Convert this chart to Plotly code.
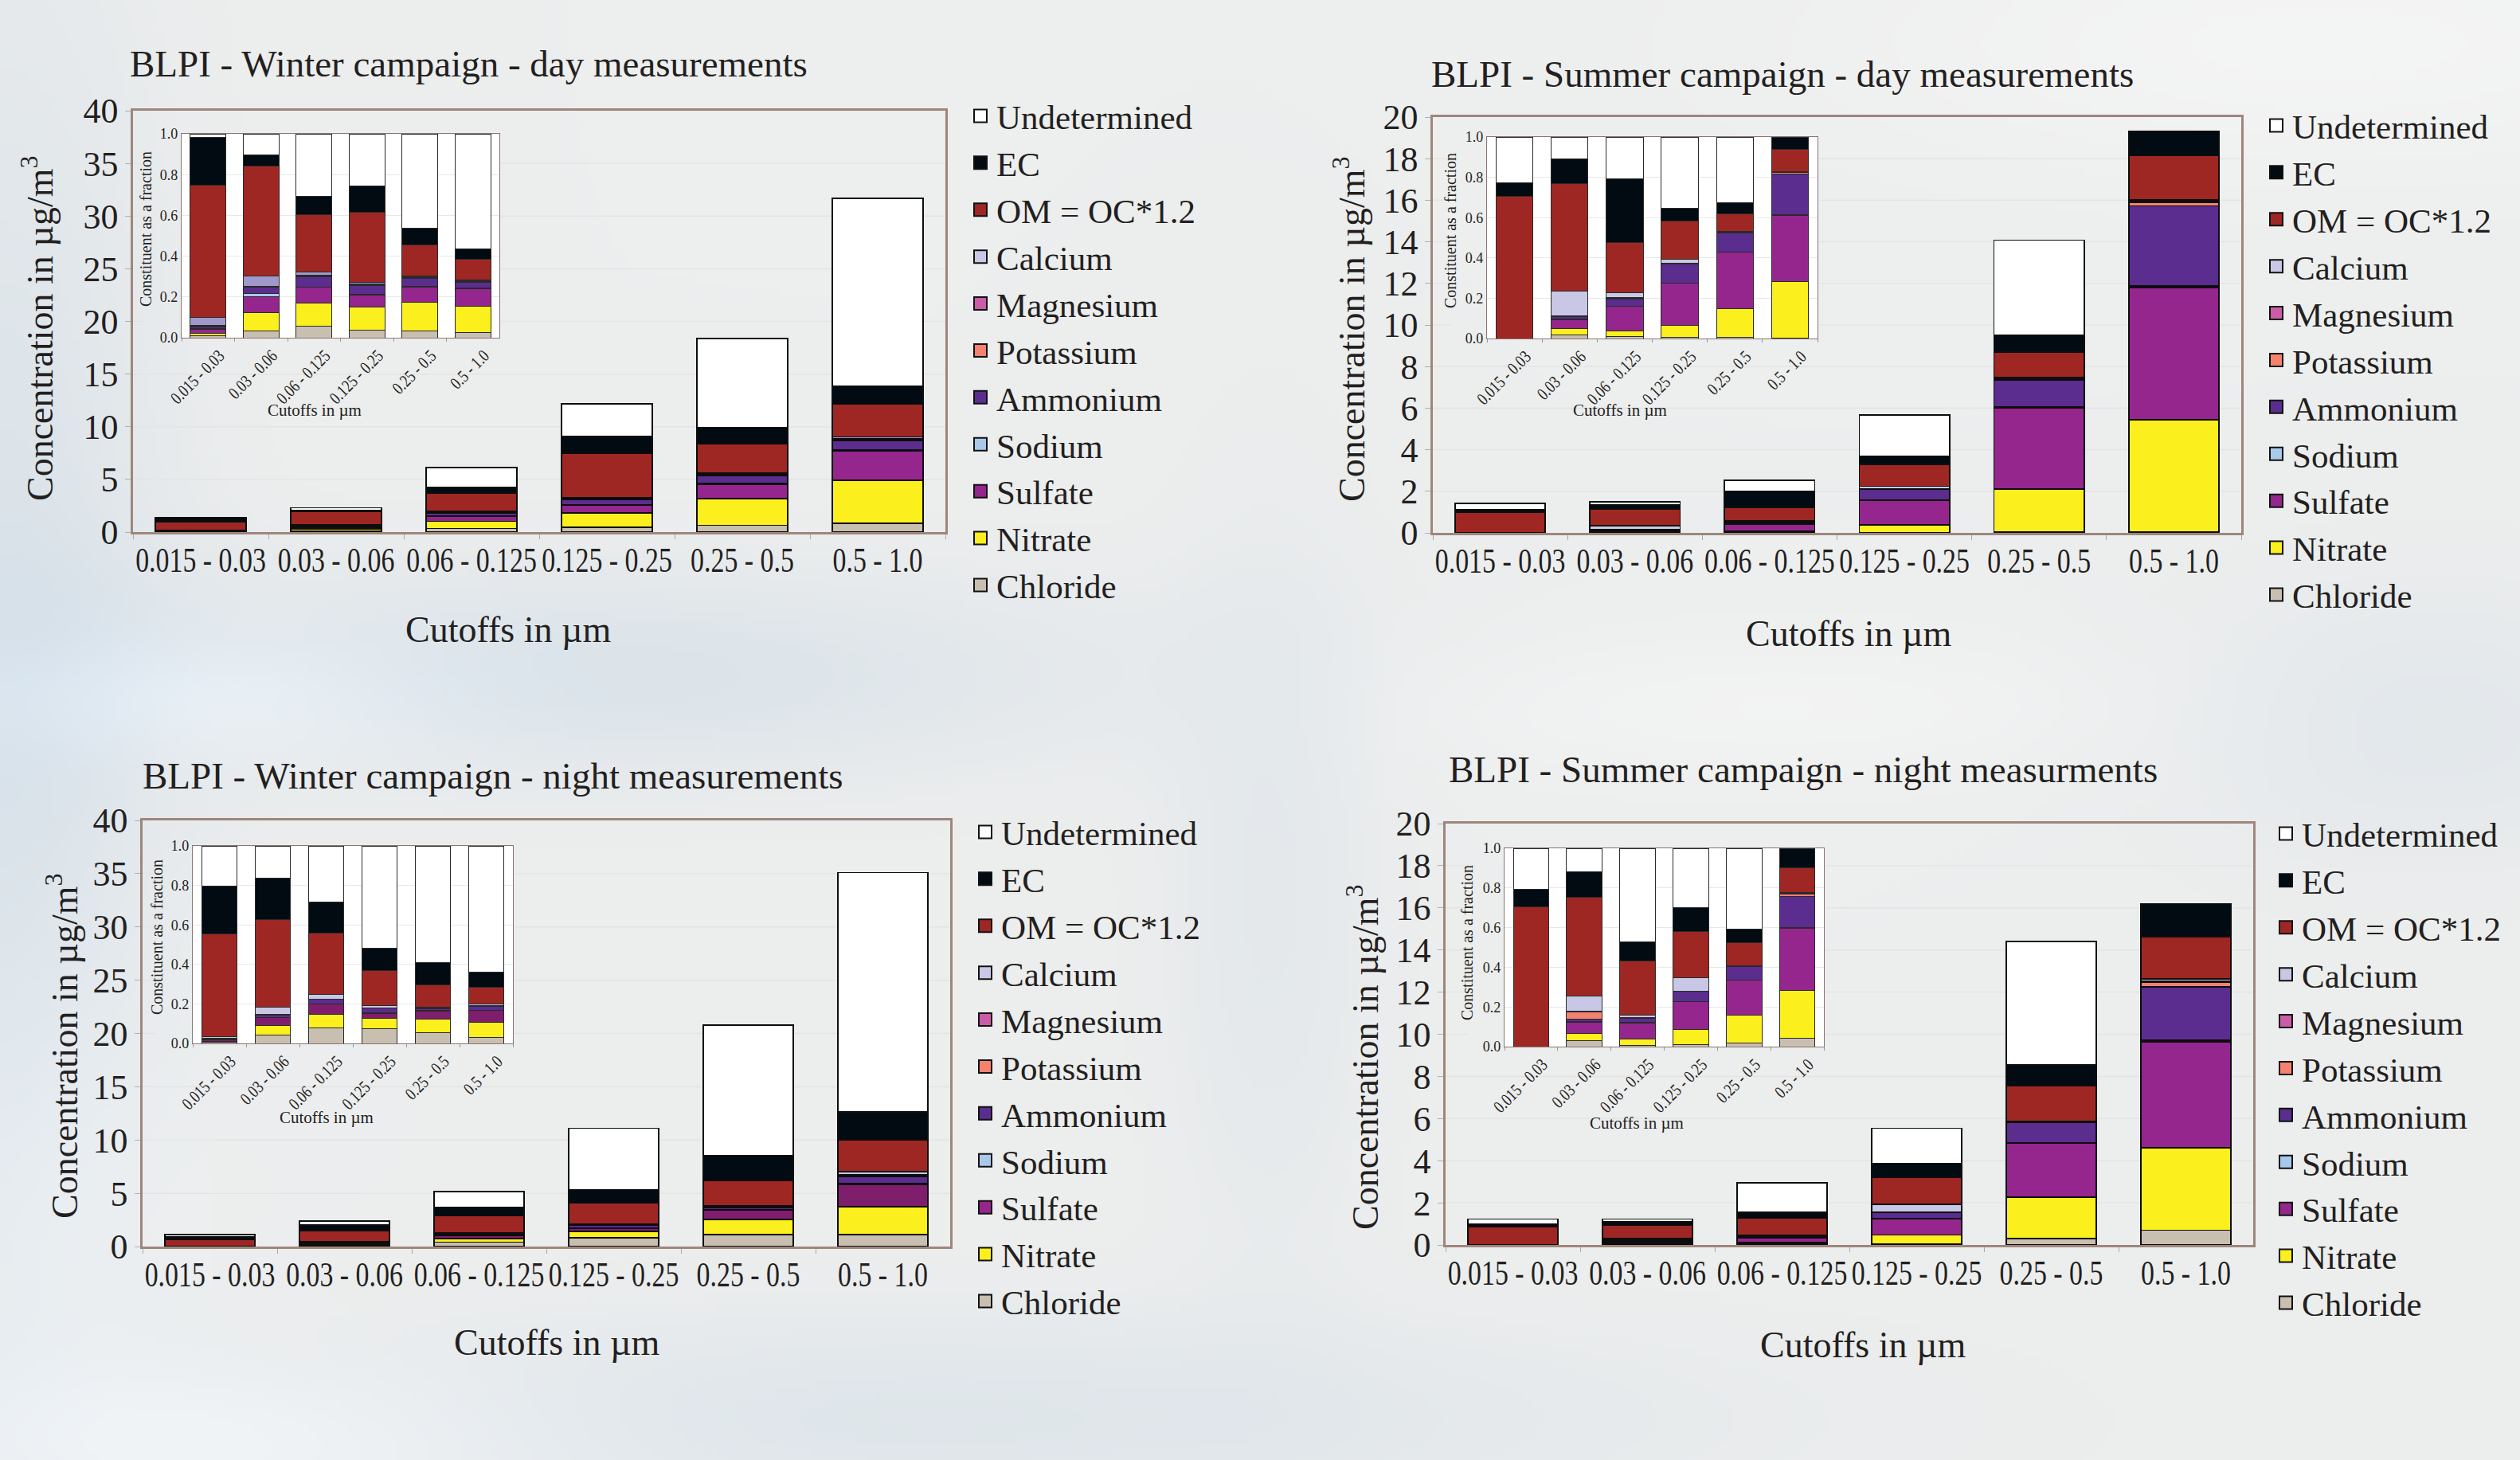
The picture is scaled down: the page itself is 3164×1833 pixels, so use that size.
import base64, struct, zlib
import numpy as np
import plotly.graph_objects as go

W, H = 3164, 1833
FONT = "Liberation Serif, Times New Roman, serif"
TXT = "#231f20"
FRAME = "#9f867b"
GRID = "#e4e4e4"

CUTOFFS = ["0.015 - 0.03", "0.03 - 0.06", "0.06 - 0.125", "0.125 - 0.25", "0.25 - 0.5", "0.5 - 1.0"]
STACK = ["Chloride", "Nitrate", "Sulfate", "Sodium", "Ammonium", "Potassium",
         "Magnesium", "Calcium", "OM = OC*1.2", "EC", "Undetermined"]   # bottom -> top
LEGEND_ORDER = STACK[::-1]

COLORS = {
    "Undetermined": "#ffffff", "EC": "#020b12", "OM = OC*1.2": "#9e2724",
    "Calcium": "#c8c8e6", "Magnesium": "#cc5ca8", "Potassium": "#f5826e",
    "Ammonium": "#5b2d8f", "Sodium": "#a9c9ea", "Sulfate": "#95268e",
    "Nitrate": "#fbef1d", "Chloride": "#c9bfb1",
}

# ---- total concentrations (µg/m3) per cutoff ----
WINTER_DAY_TOTAL = [1.35, 2.3, 6.1, 12.2, 18.4, 31.7]
WINTER_NIGHT_TOTAL = [1.15, 2.4, 5.15, 11.1, 20.8, 35.1]
SUMMER_DAY_TOTAL = [1.43, 1.49, 2.54, 5.67, 14.08, 19.3]
SUMMER_NIGHT_TOTAL = [1.23, 1.23, 2.95, 5.54, 14.4, 16.2]

# ---- constituent fractions per cutoff ----
WINTER_DAY_FRAC = {
    "Chloride":     [0.008, 0.035, 0.055, 0.039, 0.035, 0.027],
    "Nitrate":      [0.015, 0.089, 0.113, 0.112, 0.137, 0.129],
    "Sulfate":      [0.017, 0.077, 0.079, 0.058, 0.075, 0.086],
    "Sodium":       [0.003, 0.017, 0.003, 0.003, 0.004, 0.003],
    "Ammonium":     [0.010, 0.030, 0.050, 0.044, 0.040, 0.028],
    "Potassium":    [0.004, 0.002, 0.003, 0.003, 0.003, 0.003],
    "Magnesium":    [0.004, 0.002, 0.003, 0.003, 0.003, 0.003],
    "Calcium":      [0.037, 0.051, 0.015, 0.008, 0.006, 0.006],
    "OM = OC*1.2":  [0.652, 0.537, 0.283, 0.344, 0.151, 0.098],
    "EC":           [0.234, 0.058, 0.091, 0.129, 0.084, 0.053],
    "Undetermined": [0.016, 0.102, 0.305, 0.257, 0.462, 0.564],
}
WINTER_NIGHT_FRAC = {
    "Chloride":     [0.005, 0.042, 0.079, 0.073, 0.054, 0.032],
    "Nitrate":      [0.006, 0.047, 0.070, 0.053, 0.068, 0.074],
    "Sulfate":      [0.008, 0.041, 0.049, 0.025, 0.042, 0.060],
    "Sodium":       [0.002, 0.003, 0.002, 0.003, 0.003, 0.003],
    "Ammonium":     [0.005, 0.012, 0.022, 0.024, 0.010, 0.019],
    "Potassium":    [0.001, 0.001, 0.001, 0.001, 0.001, 0.002],
    "Magnesium":    [0.001, 0.001, 0.001, 0.001, 0.001, 0.002],
    "Calcium":      [0.005, 0.036, 0.025, 0.010, 0.006, 0.008],
    "OM = OC*1.2":  [0.522, 0.443, 0.310, 0.177, 0.113, 0.085],
    "EC":           [0.243, 0.209, 0.155, 0.114, 0.112, 0.075],
    "Undetermined": [0.202, 0.165, 0.286, 0.519, 0.590, 0.640],
}
SUMMER_DAY_FRAC = {
    "Chloride":     [0.000, 0.016, 0.008, 0.004, 0.004, 0.002],
    "Nitrate":      [0.000, 0.033, 0.028, 0.062, 0.145, 0.280],
    "Sulfate":      [0.000, 0.045, 0.123, 0.208, 0.279, 0.330],
    "Sodium":       [0.000, 0.002, 0.002, 0.002, 0.002, 0.003],
    "Ammonium":     [0.000, 0.012, 0.036, 0.094, 0.092, 0.200],
    "Potassium":    [0.000, 0.001, 0.002, 0.002, 0.003, 0.008],
    "Magnesium":    [0.000, 0.002, 0.003, 0.003, 0.002, 0.003],
    "Calcium":      [0.000, 0.126, 0.026, 0.020, 0.003, 0.004],
    "OM = OC*1.2":  [0.705, 0.531, 0.250, 0.187, 0.088, 0.110],
    "EC":           [0.068, 0.125, 0.315, 0.066, 0.057, 0.060],
    "Undetermined": [0.227, 0.107, 0.207, 0.352, 0.325, 0.000],
}
SUMMER_NIGHT_FRAC = {
    "Chloride":     [0.000, 0.029, 0.008, 0.009, 0.020, 0.043],
    "Nitrate":      [0.000, 0.038, 0.032, 0.077, 0.138, 0.241],
    "Sulfate":      [0.000, 0.054, 0.079, 0.140, 0.177, 0.312],
    "Sodium":       [0.000, 0.004, 0.002, 0.002, 0.002, 0.003],
    "Ammonium":     [0.000, 0.012, 0.022, 0.050, 0.067, 0.158],
    "Potassium":    [0.000, 0.038, 0.002, 0.001, 0.001, 0.012],
    "Magnesium":    [0.000, 0.004, 0.002, 0.001, 0.001, 0.004],
    "Calcium":      [0.000, 0.077, 0.012, 0.067, 0.002, 0.006],
    "OM = OC*1.2":  [0.703, 0.499, 0.271, 0.234, 0.118, 0.124],
    "EC":           [0.089, 0.127, 0.097, 0.119, 0.068, 0.097],
    "Undetermined": [0.208, 0.118, 0.473, 0.300, 0.406, 0.000],
}

PANELS = [
    dict(title="BLPI - Winter campaign - day measurements", total=WINTER_DAY_TOTAL, frac=WINTER_DAY_FRAC,
         ymax=40, dtick=5, main=(167, 139, 1187, 668), inset=(228, 168, 627, 424),
         title_xy=(161, 80), ytitle_xy=(47, 412), xtitle_xy=(638, 790),
         iytitle_xy=(183, 288), ixtitle_xy=(395, 515), legend_xy=(1251, 142),
         overrides={"Calcium": "#a098c9"}),
    dict(title="BLPI - Summer campaign - day measurements", total=SUMMER_DAY_TOTAL, frac=SUMMER_DAY_FRAC,
         ymax=20, dtick=2, main=(1799, 147, 2814, 669), inset=(1867, 172, 2282, 425),
         title_xy=(1795, 93), ytitle_xy=(1694, 413), xtitle_xy=(2321, 795),
         iytitle_xy=(1821, 290), ixtitle_xy=(2034, 515), legend_xy=(2878, 154),
         overrides={}),
    dict(title="BLPI - Winter campaign - night measurements", total=WINTER_NIGHT_TOTAL, frac=WINTER_NIGHT_FRAC,
         ymax=40, dtick=5, main=(179, 1030, 1193, 1565), inset=(242, 1062, 644, 1310),
         title_xy=(177, 974), ytitle_xy=(78, 1313), xtitle_xy=(699, 1685),
         iytitle_xy=(197, 1177), ixtitle_xy=(410, 1403), legend_xy=(1257, 1041),
         overrides={"Sulfate": "#801e6e"}),
    dict(title="BLPI - Summer campaign - night measurments", total=SUMMER_NIGHT_TOTAL, frac=SUMMER_NIGHT_FRAC,
         ymax=20, dtick=2, main=(1815, 1034, 2829, 1563), inset=(1889, 1065, 2290, 1314),
         title_xy=(1817, 966), ytitle_xy=(1711, 1327), xtitle_xy=(2339, 1688),
         iytitle_xy=(1842, 1184), ixtitle_xy=(2055, 1410), legend_xy=(2890, 1043),
         overrides={}),
]


def fx(x):
    return x / W


def fy(y):
    return 1 - y / H


# ---------- soft cloudy background (decorative) ----------
def make_background():
    gw, gh = 396, 230
    xs = np.linspace(0, 1568, gw)[None, :]
    ys = np.linspace(0, 908, gh)[:, None]
    base = np.array([237, 238, 238], float)
    blue = np.array([212, 223, 232], float)
    white = np.array([251, 251, 251], float)
    img = np.zeros((gh, gw, 3)) + base
    blobs = [
        (0, 450, 70, 320, blue, 0.75),
        (320, 420, 260, 45, blue, 0.75),
        (110, 432, 130, 30, white, 0.85),
        (560, 885, 330, 45, blue, 0.55),
        (140, 895, 150, 35, white, 0.7),
        (790, 560, 45, 160, blue, 0.35),
        (1510, 450, 110, 60, blue, 0.4),
        (1450, 25, 220, 60, white, 0.5),
        (30, 760, 60, 120, white, 0.5),
        (1100, 440, 180, 35, white, 0.4),
    ]
    for cx, cy, sx, sy, col, s in blobs:
        g = np.exp(-(((xs - cx) / sx) ** 2 + ((ys - cy) / sy) ** 2) / 2) * s
        img += g[..., None] * (col - base)
    img = np.clip(img, 0, 255).astype(np.uint8)
    raw = b"".join(b"\x00" + img[r].tobytes() for r in range(gh))

    def chunk(tag, data):
        c = struct.pack(">I", len(data)) + tag + data
        return c + struct.pack(">I", zlib.crc32(tag + data) & 0xffffffff)

    png = (b"\x89PNG\r\n\x1a\n" + chunk(b"IHDR", struct.pack(">IIBBBBB", gw, gh, 8, 2, 0, 0, 0))
           + chunk(b"IDAT", zlib.compress(raw, 9)) + chunk(b"IEND", b""))
    return "data:image/png;base64," + base64.b64encode(png).decode()


fig = go.Figure()
layout = dict(
    width=W, height=H, margin=dict(l=0, r=0, t=0, b=0, autoexpand=False),
    paper_bgcolor="#edeeee", plot_bgcolor="#ffffff",
    barmode="stack", bargap=0.33, showlegend=True,
    font=dict(family=FONT, color=TXT),
    images=[dict(source=make_background(), xref="paper", yref="paper", x=0, y=1,
                 sizex=1, sizey=1, sizing="stretch", layer="below")],
)
annotations = []
shapes = []

for i, p in enumerate(PANELS):
    mi, ii = 2 * i + 1, 2 * i + 2
    xm = "x" if mi == 1 else f"x{mi}"
    ym = "y" if mi == 1 else f"y{mi}"
    xi, yi = f"x{ii}", f"y{ii}"
    xmn = "xaxis" if mi == 1 else f"xaxis{mi}"
    ymn = "yaxis" if mi == 1 else f"yaxis{mi}"
    xin, yin = f"xaxis{ii}", f"yaxis{ii}"
    lid = "legend" if i == 0 else f"legend{i + 1}"

    for comp in STACK:
        col = p["overrides"].get(comp, COLORS[comp])
        fr = p["frac"][comp]
        vals = [f * t for f, t in zip(fr, p["total"])]
        fig.add_trace(go.Bar(x=CUTOFFS, y=vals, xaxis=xm, yaxis=ym, name=comp,
                             marker=dict(color=col, line=dict(color="#0d0d0d", width=1.8)),
                             showlegend=False, legendgroup=f"{lid}-{comp}"))
        fig.add_trace(go.Bar(x=CUTOFFS, y=fr, xaxis=xi, yaxis=yi, name=comp,
                             marker=dict(color=col, line=dict(color="#2a2a2a", width=1)),
                             showlegend=False, legendgroup=f"{lid}-{comp}"))
    for comp in LEGEND_ORDER:
        fig.add_trace(go.Scatter(x=[None], y=[None], xaxis=xm, yaxis=ym, mode="markers", name=comp,
                                 marker=dict(symbol="square", size=16, color=COLORS[comp],
                                             line=dict(color="#111111", width=2)),
                                 legend=lid, showlegend=True, legendgroup=f"{lid}-{comp}"))

    x0, y0, x1, y1 = p["main"]
    ix0, iy0, ix1, iy1 = p["inset"]
    layout[xmn] = dict(domain=[fx(x0), fx(x1)], anchor=ym, type="category",
                       categoryorder="array", categoryarray=CUTOFFS,
                       showline=True, mirror=True, linecolor=FRAME, linewidth=2.5,
                       ticks="outside", tickson="boundaries", ticklen=6, tickcolor="#a8a8a8",
                       tickangle=0, tickfont=dict(size=44, family=FONT, color=TXT), showgrid=False)
    layout[ymn] = dict(domain=[fy(y1), fy(y0)], anchor=xm, range=[0, p["ymax"]], dtick=p["dtick"],
                       showline=True, mirror=True, linecolor=FRAME, linewidth=2.5,
                       ticks="outside", ticklen=7, tickcolor="#b0b0b0",
                       tickfont=dict(size=44, family=FONT, color=TXT),
                       showgrid=False, zeroline=False)
    layout[xin] = dict(domain=[fx(ix0), fx(ix1)], anchor=yi, type="category",
                       categoryorder="array", categoryarray=CUTOFFS,
                       showline=True, mirror=True, linecolor="#8a7470", linewidth=1.2,
                       ticks="outside", tickson="boundaries", ticklen=4, tickcolor="#999999",
                       tickangle=-45, ticklabelshift=14,
                       tickfont=dict(size=22, family=FONT, color=TXT), showgrid=False)
    layout[yin] = dict(domain=[fy(iy1), fy(iy0)], anchor=xi, range=[0, 1], dtick=0.2, tickformat=".1f",
                       showline=True, mirror=True, linecolor="#8a7470", linewidth=1.2, ticks="",
                       tickfont=dict(size=18, family=FONT, color=TXT),
                       showgrid=True, gridcolor="#e8e8e8", gridwidth=1, zeroline=False)

    # main horizontal grid lines, interrupted behind the inset
    cov_x0, cov_x1 = ix0 - 45, ix1 + 2
    cov_y0, cov_y1 = iy0 - 15, iy1 + 10
    v = p["dtick"]
    while v < p["ymax"] - 1e-9:
        gy = y1 - v / p["ymax"] * (y1 - y0)
        segs = [(x0, x1)]
        if cov_y0 <= gy <= cov_y1:
            segs = [(x0, cov_x0), (cov_x1, x1)]
        for sx0, sx1 in segs:
            shapes.append(dict(type="line", xref="paper", yref="paper", layer="below",
                               x0=fx(sx0), x1=fx(sx1), y0=fy(gy), y1=fy(gy),
                               line=dict(color=GRID, width=1.5)))
        v += p["dtick"]

    tx, ty = p["legend_xy"]
    layout[lid] = dict(x=fx(tx - 40), y=fy(ty - 31), xanchor="left", yanchor="top",
                       bgcolor="rgba(0,0,0,0)", traceorder="normal", tracegroupgap=0,
                       font=dict(size=43, family=FONT, color=TXT), itemclick=False, itemdoubleclick=False)

    annotations += [
        dict(text=p["title"], x=fx(p["title_xy"][0]), y=fy(p["title_xy"][1]), xref="paper", yref="paper",
             xanchor="left", yanchor="middle", showarrow=False, font=dict(size=47, family=FONT, color=TXT)),
        dict(text="Concentration in µg/m<sup>3</sup>", x=fx(p["ytitle_xy"][0]), y=fy(p["ytitle_xy"][1]),
             xref="paper", yref="paper", xanchor="center", yanchor="middle", textangle=-90,
             showarrow=False, font=dict(size=46, family=FONT, color=TXT)),
        dict(text="Cutoffs in µm", x=fx(p["xtitle_xy"][0]), y=fy(p["xtitle_xy"][1]), xref="paper", yref="paper",
             xanchor="center", yanchor="middle", showarrow=False, font=dict(size=46, family=FONT, color=TXT)),
        dict(text="Constituent as a fraction", x=fx(p["iytitle_xy"][0]), y=fy(p["iytitle_xy"][1]),
             xref="paper", yref="paper", xanchor="center", yanchor="middle", textangle=-90,
             showarrow=False, font=dict(size=20, family=FONT, color=TXT)),
        dict(text="Cutoffs in µm", x=fx(p["ixtitle_xy"][0]), y=fy(p["ixtitle_xy"][1]), xref="paper", yref="paper",
             xanchor="center", yanchor="middle", showarrow=False, font=dict(size=21, family=FONT, color=TXT)),
    ]

layout["annotations"] = annotations
layout["shapes"] = shapes
fig.update_layout(**layout)

# page without body margin; cutoff tick labels drawn horizontally condensed like the original
POST = """
document.body.style.margin = '0';
var gd = document.getElementById('{plot_id}');
function condenseLabels() {
  gd.querySelectorAll('.xaxislayer-above text').forEach(function (t) {
    var fs = parseFloat(t.style.fontSize || window.getComputedStyle(t).fontSize);
    var extra = fs > 40 ? ' translate(0,-6) scale(0.77,1)' : (fs > 20 ? ' scale(0.8,1)' : '');
    if (!extra) { return; }
    var tr = t.getAttribute('transform') || '';
    if (tr.indexOf('scale(') === -1) { t.setAttribute('transform', tr + extra); }
  });
}
condenseLabels();
if (window.MutationObserver) {
  new MutationObserver(condenseLabels).observe(gd, {subtree: true, childList: true,
                                                    attributes: true, attributeFilter: ['transform']});
}
if (gd.on) { gd.on('plotly_afterplot', condenseLabels); }
setTimeout(condenseLabels, 50);
"""
fig.write_html("out.html", config={"displayModeBar": False}, post_script=POST)
